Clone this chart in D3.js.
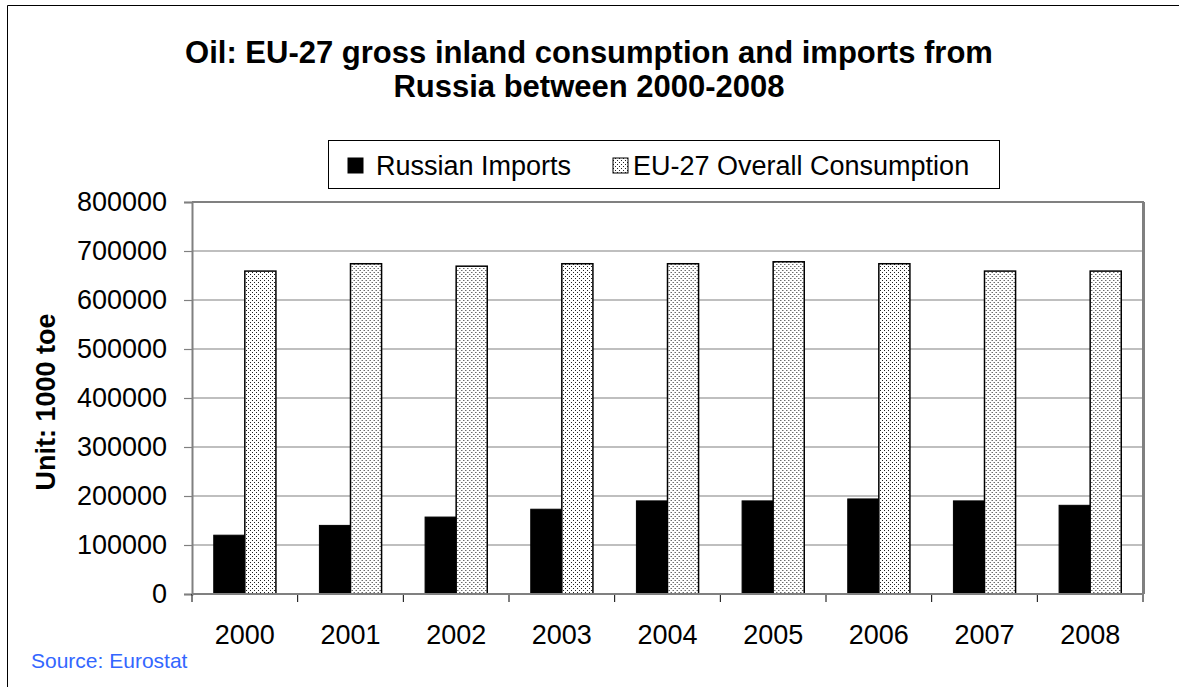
<!DOCTYPE html>
<html><head><meta charset="utf-8">
<script src="https://cdn.jsdelivr.net/npm/d3@7"></script>
<style>
body{margin:0;background:#fff;}
svg{display:block;font-family:"Liberation Sans",Arial,sans-serif;}
</style>
</head><body>
<svg id="chart" width="1179" height="687"></svg>
<script>
// ---- data ----
const years = ["2000","2001","2002","2003","2004","2005","2006","2007","2008"];
const russianImports = [120000,140000,157000,173000,190000,190000,194000,190000,181000];
const euConsumption  = [659000,674000,669000,674000,674000,678000,674000,659000,659000];
const seriesNames = ["Russian Imports","EU-27 Overall Consumption"];
const yTicks = [0,100000,200000,300000,400000,500000,600000,700000,800000];
const titleLines = ["Oil: EU-27 gross inland consumption and imports from","Russia between 2000-2008"];
const yTitle = "Unit: 1000 toe";
const sourceText = "Source: Eurostat";

// ---- layout ----
const svg = d3.select("#chart");
const L = 192, R = 1143, T = 202, B = 594;

const defs = svg.append("defs");
const pat = defs.append("pattern").attr("id","dots").attr("width",4).attr("height",4)
  .attr("patternUnits","userSpaceOnUse");
pat.append("rect").attr("width",4).attr("height",4).attr("fill","#fff");
pat.append("rect").attr("x",0).attr("y",0).attr("width",1).attr("height",1).attr("fill","#222");
pat.append("rect").attr("x",2).attr("y",2).attr("width",1).attr("height",1).attr("fill","#222");

// outer frame (cropped chart area)
svg.append("path").attr("d","M7.5,687 V5.5 H1179").attr("fill","none").attr("stroke","#000").attr("stroke-width",1);

const x = d3.scaleBand().domain(years).range([L,R]).paddingInner(0).paddingOuter(0);
const xs = d3.scaleBand().domain(seriesNames).range([0,x.bandwidth()]).paddingInner(0).paddingOuter(0.7);
const y = d3.scaleLinear().domain([0,800000]).range([B,T]);

// gridlines
svg.append("g").selectAll("line").data(yTicks.filter(d=>d>0 && d<800000)).join("line")
  .attr("x1",L).attr("x2",R).attr("y1",d=>y(d)).attr("y2",d=>y(d))
  .attr("stroke","#808080").attr("stroke-width",1.2);

// bars
const rows = years.map((yr,i)=>({year:yr, vals:[russianImports[i], euConsumption[i]]}));
const g = svg.append("g").selectAll("g").data(rows).join("g")
  .attr("transform",d=>`translate(${x(d.year)},0)`);
g.selectAll("rect").data(d=>d.vals.map((v,j)=>({s:seriesNames[j],v,j}))).join("rect")
  .attr("x",d=>xs(d.s)).attr("width",xs.bandwidth())
  .attr("y",d=>y(d.v)).attr("height",d=>B-y(d.v))
  .attr("fill",d=>d.j===0?"#000":"url(#dots)")
  .attr("stroke","#000").attr("stroke-width",d=>d.j===0?1:1.5);

// plot border
svg.append("path").attr("d",`M${L},${T} H${R} V${B}`)
  .attr("fill","none").attr("stroke","#808080").attr("stroke-width",2);
svg.append("line").attr("x1",R+0.5).attr("x2",R+0.5).attr("y1",T).attr("y2",B)
  .attr("stroke","#808080").attr("stroke-width",3);

// left axis
const ya = svg.append("g").attr("transform",`translate(${L},0)`)
  .call(d3.axisLeft(y).tickValues(yTicks).tickSize(8).tickPadding(17).tickFormat(d3.format("d")));
ya.select(".domain").attr("stroke","#808080").attr("stroke-width",2);
ya.selectAll(".tick line").attr("stroke","#808080").attr("stroke-width",1.2);
ya.selectAll(".tick text").attr("font-size",27).attr("fill","#000")
  .attr("font-family","'Liberation Sans',Arial,sans-serif");

// bottom axis ticks at category boundaries
const bounds = years.map(d=>x(d)).concat([R]);
svg.append("g").selectAll("line").data(bounds).join("line")
  .attr("x1",d=>d).attr("x2",d=>d).attr("y1",B).attr("y2",B+8)
  .attr("stroke","#000").attr("stroke-width",1);
svg.append("line").attr("x1",L).attr("x2",R).attr("y1",B).attr("y2",B)
  .attr("stroke","#808080").attr("stroke-width",2);
svg.append("g").selectAll("text").data(years).join("text")
  .attr("x",d=>x(d)+x.bandwidth()/2).attr("y",644)
  .attr("text-anchor","middle").attr("font-size",27).attr("fill","#000").text(d=>d);

// title
svg.append("g").selectAll("text").data(titleLines).join("text")
  .attr("x",589).attr("y",(d,i)=>63+i*34)
  .attr("text-anchor","middle").attr("font-size",31).attr("font-weight","bold").text(d=>d);

// y title
svg.append("text").attr("transform","translate(55,402) rotate(-90)")
  .attr("text-anchor","middle").attr("font-size",27).attr("font-weight","bold").text(yTitle);

// legend
svg.append("rect").attr("x",328.5).attr("y",140.5).attr("width",671).attr("height",48)
  .attr("fill","#fff").attr("stroke","#000").attr("stroke-width",1);
const legX = [348, 613];
const lg = svg.append("g").selectAll("g").data(seriesNames).join("g")
  .attr("transform",(d,i)=>`translate(${legX[i]},0)`);
lg.append("rect").attr("x",0).attr("y",158).attr("width",15).attr("height",15)
  .attr("fill",(d,i)=>i===0?"#000":"url(#dots)").attr("stroke","#000").attr("stroke-width",1);
lg.append("text").attr("x",(d,i)=>i===0?28:20).attr("y",175).attr("font-size",27).text(d=>d);

// source
svg.append("text").attr("x",31).attr("y",668).attr("font-size",21).attr("fill","#3366FF").text(sourceText);
</script>
</body></html>
